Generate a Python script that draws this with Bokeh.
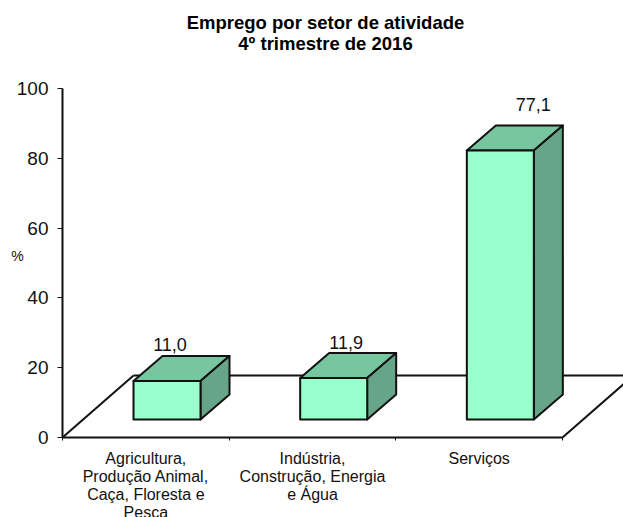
from bokeh.embed import file_html
from bokeh.resources import INLINE
from bokeh.plotting import figure
from bokeh.models import Label, LinearAxis, FixedTicker, Range1d

categories = [["Agricultura,", "Produção Animal,", "Caça, Floresta e", "Pesca"],
              ["Indústria,", "Construção, Energia", "e Água"],
              ["Serviços"]]
values = [11.0, 11.9, 77.1]
value_labels = ["11,0", "11,9", "77,1"]
title_lines = ["Emprego por setor de atividade", "4º trimestre de 2016"]
y_ticks = [0, 20, 40, 60, 80, 100]
x_boundaries = [0, 1, 2, 3]

FONT = "Liberation Sans"
W, H = 623, 517
L, T, B = 62, 88, 80          # where the axes lie inside the canvas
UNIT = 166.67                 # pixels per category
PY = (H - T - B) / 100        # pixels per percent
DX, DY = 71 / UNIT, 62 / PY   # floor depth
BDX, BDY = 29 / UNIT, 25 / PY # bar depth
BASE = 18 / PY                # bar base above the axis line
BW = 67 / UNIT
FIRST = 71 / UNIT             # gap before the first bar

p = figure(width=W, height=H, output_backend="svg", toolbar_location=None,
           x_range=Range1d(-L / UNIT, (W - L) / UNIT), y_range=Range1d(-B / PY, 100 + T / PY),
           x_axis_location=None, y_axis_location=None,
           min_border_left=0, min_border_right=0, min_border_top=0, min_border_bottom=0,
           background_fill_color="white", border_fill_color="white")
p.outline_line_color = None
p.grid.visible = False

ya = LinearAxis(ticker=FixedTicker(ticks=y_ticks), fixed_location=0, bounds=(0, 100))
ya.major_label_text_font = FONT
ya.major_label_text_font_size = "19px"
ya.major_label_text_color = "#111111"
ya.axis_line_width = 2
ya.axis_line_color = "#111111"
ya.major_tick_line_color = "#111111"
ya.major_tick_out = 5
ya.major_tick_in = 0
ya.minor_tick_out = 0
ya.minor_tick_in = 0
ya.major_label_standoff = 9
p.add_layout(ya, "left")

xa = LinearAxis(ticker=FixedTicker(ticks=[], minor_ticks=x_boundaries), fixed_location=0, bounds=(0, 3))
xa.axis_line_width = 2
xa.axis_line_color = "#111111"
xa.major_tick_line_color = None
xa.minor_tick_line_color = "#111111"
xa.minor_tick_out = 3
xa.minor_tick_in = 0
p.add_layout(xa, "below")

# floor
p.line([0, DX], [0, DY], line_color="#111111", line_width=2)
p.line([DX, 3 + DX], [DY, DY], line_color="#111111", line_width=2)
p.line([3, 3 + DX], [0, DY], line_color="#111111", line_width=2)

# bars
for i, v in enumerate(values):
    x0 = i + FIRST
    x1 = x0 + BW
    y0 = BASE
    y1 = BASE + v
    style = dict(line_color="#111111", line_width=2, line_join="round")
    p.patch([x0, x0 + BDX, x1 + BDX, x1], [y1, y1 + BDY, y1 + BDY, y1], fill_color="#77C6A0", **style)
    p.patch([x1, x1 + BDX, x1 + BDX, x1], [y0, y0 + BDY, y1 + BDY, y1], fill_color="#66A587", **style)
    p.patch([x0, x1, x1, x0], [y0, y0, y1, y1], fill_color="#99FFCC", **style)

# value labels
offs = [(-0.069, 5), (-0.012, 4), (0.11, 14)]
for i, (v, txt) in enumerate(zip(values, value_labels)):
    p.add_layout(Label(x=i + FIRST + BW / 2 + BDX / 2 + offs[i][0],
                       y=BASE + v + BDY, y_offset=offs[i][1],
                       text=txt, text_align="center", text_baseline="bottom",
                       text_font=FONT, text_font_size="18px", text_color="#111111"))

# category labels
for i, lines in enumerate(categories):
    for j, line in enumerate(lines):
        p.add_layout(Label(x=i + 0.5, y=-(21 + j * 18) / PY, text=line,
                           text_align="center", text_baseline="middle",
                           text_font=FONT, text_font_size="16px", text_color="#111111"))

# title and unit
for j, line in enumerate(title_lines):
    p.add_layout(Label(x=(325 - L) / UNIT, y=100 + (T - 22 - j * 20.5) / PY, text=line,
                       text_align="center", text_baseline="middle",
                       text_font=FONT, text_font_size="18.5px", text_font_style="bold", text_color="#000000"))

p.add_layout(Label(x=(17 - L) / UNIT, y=(H - B - 255) / PY, text="%",
                   text_align="center", text_baseline="middle",
                   text_font=FONT, text_font_size="14px", text_color="#111111"))

open("out.html", "w").write(file_html(p, INLINE))
